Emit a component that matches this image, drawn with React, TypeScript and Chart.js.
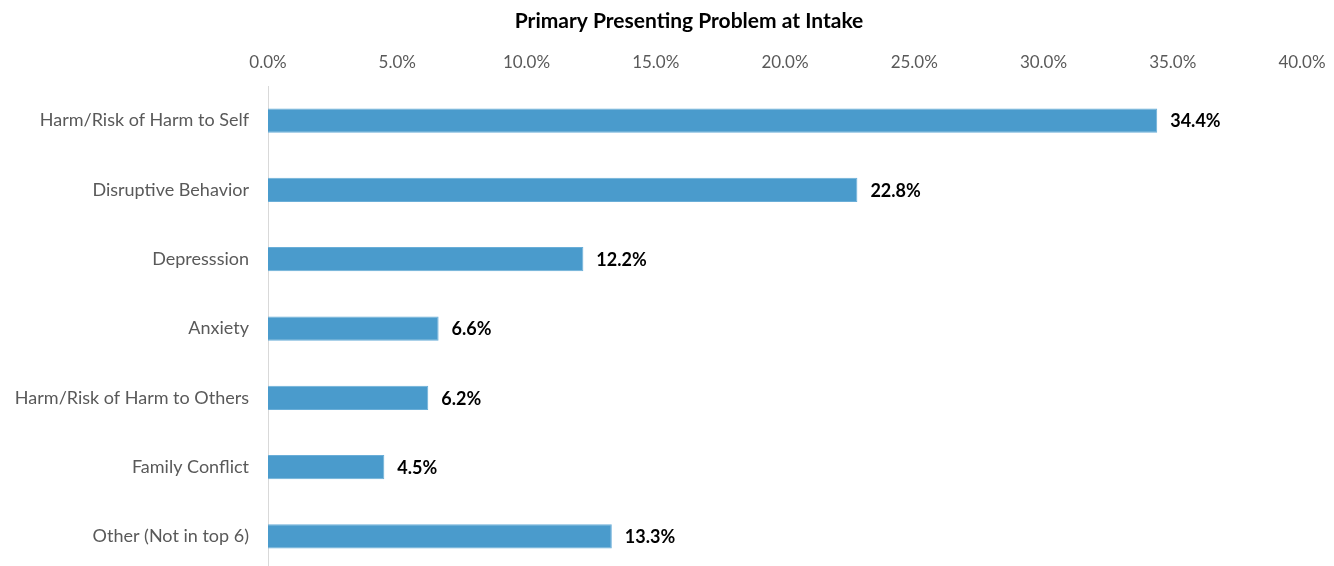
import React, { useEffect, useRef } from "react";
import { Chart, registerables } from "chart.js";

Chart.register(...registerables);

const chartTitle = "Primary Presenting Problem at Intake";
const categories = [
  "Harm/Risk of Harm to Self",
  "Disruptive Behavior",
  "Depresssion",
  "Anxiety",
  "Harm/Risk of Harm to Others",
  "Family Conflict",
  "Other (Not in top 6)",
];
const percentValues = [34.4, 22.8, 12.2, 6.6, 6.2, 4.5, 13.3];
const axisMin = 0;
const axisMax = 40;
const axisStep = 5;

const FONT = "Lato, 'Open Sans', sans-serif";

export default function App() {
  const ref = useRef<HTMLCanvasElement | null>(null);

  useEffect(() => {
    if (!ref.current) return;
    const titlePlugin = {
      id: "customTitle",
      afterDraw(chart: any) {
        const ctx = chart.ctx;
        ctx.save();
        ctx.font = `bold 21px ${FONT}`;
        ctx.fillStyle = "#000000";
        ctx.textAlign = "center";
        ctx.textBaseline = "middle";
        ctx.fillText(chartTitle, 689, 21);
        ctx.restore();
      },
    };
    const labelPlugin = {
      id: "barLabels",
      afterDatasetsDraw(chart: any) {
        const ctx = chart.ctx;
        const meta = chart.getDatasetMeta(0);
        ctx.save();
        ctx.font = `bold 18px ${FONT}`;
        ctx.fillStyle = "#000000";
        ctx.textAlign = "left";
        ctx.textBaseline = "middle";
        meta.data.forEach((el: any, i: number) => {
          ctx.fillText(percentValues[i].toFixed(1) + "%", el.x + 13, el.y + 1);
        });
        ctx.restore();
      },
    };
    const chart = new Chart(ref.current, {
      type: "bar",
      data: {
        labels: categories,
        datasets: [
          {
            data: percentValues,
            backgroundColor: "#4a9bcc",
            borderColor: "#6aaed8",
            borderWidth: 1,
            barPercentage: 0.35,
            categoryPercentage: 1,
          },
        ],
      },
      options: {
        indexAxis: "y",
        responsive: false,
        animation: false,
        layout: { padding: { top: 40, right: 32, left: 0, bottom: 0 } },
        plugins: {
          legend: { display: false },
          title: { display: false },
          tooltip: { enabled: false },
        },
        scales: {
          x: {
            position: "top",
            min: axisMin,
            max: axisMax,
            grid: { display: false, drawTicks: false },
            border: { display: false },
            ticks: {
              stepSize: axisStep,
              padding: 13,
              color: "#595959",
              font: { family: FONT, size: 17 },
              callback: (v: any) => Number(v).toFixed(1) + "%",
            },
            afterFit: (s: any) => {
              s.height = 46;
              s.paddingLeft = 0;
              s.paddingRight = 0;
            },
          },
          y: {
            grid: { display: false, drawTicks: false },
            border: { display: true, color: "#d9d9d9", width: 1 },
            ticks: {
              padding: 19,
              color: "#595959",
              font: { family: FONT, size: 18 },
            },
            afterFit: (s: any) => {
              s.width = 268;
              s.paddingTop = 0;
              s.paddingBottom = 0;
            },
          },
        },
      },
      plugins: [titlePlugin, labelPlugin],
    });
    return () => chart.destroy();
  }, []);

  return (
    <div
      style={{
        position: "absolute",
        left: 0,
        top: 0,
        width: 1334,
        height: 566,
        overflow: "hidden",
        background: "#ffffff",
      }}
    >
      <canvas ref={ref} width={1334} height={571} />
    </div>
  );
}
